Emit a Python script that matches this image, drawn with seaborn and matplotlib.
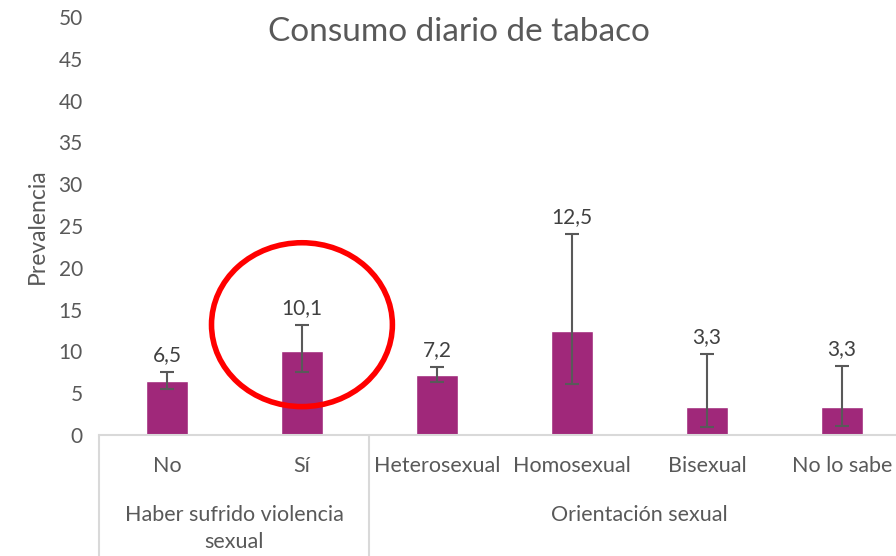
import matplotlib
matplotlib.use("Agg")
import matplotlib.pyplot as plt
from matplotlib.patches import Ellipse
import seaborn as sns
import pandas as pd

# Data
categories = ["No", "Sí", "Heterosexual", "Homosexual", "Bisexual", "No lo sabe"]
prevalence = [6.5, 10.1, 7.2, 12.5, 3.3, 3.3]
ci_low = [5.5, 7.5, 6.4, 6.1, 1.0, 1.1]
ci_high = [7.5, 13.1, 8.1, 24.0, 9.7, 8.3]
value_labels = ["6,5", "10,1", "7,2", "12,5", "3,3", "3,3"]
groups = ["Haber sufrido violencia\nsexual", "Orientación sexual"]
group_spans = [(0, 1), (2, 5)]

sns.set_style("white")
plt.rcParams["font.family"] = ["Lato", "DejaVu Sans"]

bar_color = "#A0287A"
text_color = "#595959"
line_color = "#D9D9D9"

df = pd.DataFrame({"categoria": categories, "prevalencia": prevalence})

fig = plt.figure(figsize=(8.96, 5.56), dpi=100)
ax = fig.add_axes([0.111, 0.2176, 0.904, 0.7518])

sns.barplot(data=df, x="categoria", y="prevalencia", color=bar_color,
            width=0.31, saturation=1, ax=ax)

# Error bars (confidence intervals)
xs = list(range(len(categories)))
lower = [p - lo for p, lo in zip(prevalence, ci_low)]
upper = [hi - p for p, hi in zip(prevalence, ci_high)]
ax.errorbar(xs, prevalence, yerr=[lower, upper], fmt="none",
            ecolor="#595959", elinewidth=1.5, capsize=5, capthick=1.5)

# Value labels above the upper error bar
for x, hi, lab in zip(xs, ci_high, value_labels):
    ax.annotate(lab, (x, hi), xytext=(0, 5), textcoords="offset points",
                ha="center", va="bottom", fontsize=15, color="#404040")

ax.set_ylim(0, 50)
ax.set_xlim(-0.5, len(categories) - 0.5)
ax.set_yticks(range(0, 51, 5))
ax.tick_params(axis="y", length=0, labelsize=15, labelcolor=text_color, pad=12)
ax.set_xticks([])
ax.set_xlabel("")
ax.set_ylabel("Prevalencia", fontsize=16.5, color=text_color, labelpad=8)

for side in ["top", "right", "left"]:
    ax.spines[side].set_visible(False)
ax.spines["bottom"].set_color(line_color)
ax.spines["bottom"].set_linewidth(1.5)

fig.text(0.512, 1 - 32 / 556, "Consumo diario de tabaco", fontsize=24,
         color=text_color, ha="center", va="center")

# Multi-level category axis
trans = ax.get_xaxis_transform()
for x, cat in zip(xs, categories):
    ax.text(x, -0.075, cat, transform=trans, ha="center", va="center",
            fontsize=15.5, color=text_color)
for (start, end), name in zip(group_spans, groups):
    ax.text((start + end) / 2, -0.168, name, transform=trans, ha="center",
            va="top", fontsize=15.5, color=text_color, linespacing=1.45)
for xb in [-0.5, 1.5, 5.5]:
    ax.plot([xb, xb], [0, -0.3], transform=trans, color=line_color,
            lw=1.5, clip_on=False)

# Red ellipse highlighting the "Sí" bar
ell = Ellipse((1, 13.2), width=1.34, height=19.6, fill=False,
              edgecolor="red", linewidth=4, clip_on=False, zorder=5)
ax.add_patch(ell)

fig.savefig("out.png", dpi=100)
